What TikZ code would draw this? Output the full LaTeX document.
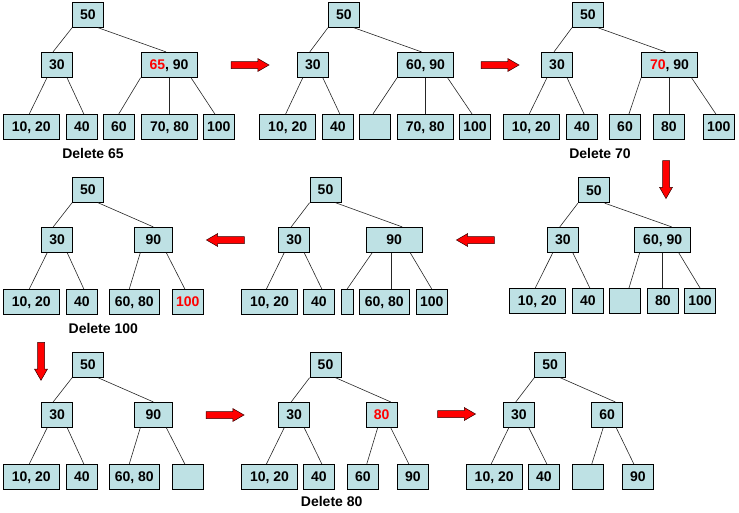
\documentclass[tikz,border=0pt]{standalone}
\usepackage{fontspec}
\setmainfont{Liberation Sans}
\usetikzlibrary{shapes.arrows}
\definecolor{nodeblue}{RGB}{190,225,228}
\definecolor{keyred}{RGB}{255,0,0}
\tikzset{
  key/.style={draw=black, line width=0.8pt, fill=nodeblue, minimum height=25pt, minimum width=31pt,
    inner sep=0pt, text height=10pt, text depth=0pt, font=\bfseries\fontsize{14}{16}\selectfont},
  wide/.style={key, minimum width=56pt},
  link/.style={line width=0.6pt, color=black!85},
  caption/.style={font=\bfseries\fontsize{14}{16}\selectfont},
  redarrow/.style={single arrow, draw=black!80!red, line width=0.5pt, fill=red, minimum height=38pt,
    minimum width=12.5pt, inner xsep=0pt, inner ysep=3.25pt, single arrow head extend=3pt,
    single arrow tip angle=60}
}
\begin{document}
\begin{tikzpicture}[x=1pt,y=-1pt]
	\useasboundingbox (0,0) rectangle (739,512);
	% tree 1
	\node[key] (a50) at (88,14.8) {50};
	\node[key] (a30) at (57,64.8) {30};
	\node[wide] (a6590) at (169,64.8) {\textcolor{keyred}{65}, 90};
	\node[wide] (a1020) at (31.3,126.8) {10, 20};
	\node[key] (a40) at (81.8,126.8) {40};
	\node[key] (a60) at (118.8,126.8) {60};
	\node[wide] (a7080) at (169.5,126.8) {70, 80};
	\node[key] (a100) at (218.8,126.8) {100};
	\node[caption] (lbla) at (93,153) {Delete 65};
	\draw[link] (a50.south west) -- ([xshift=-4pt]a30.north);
	\draw[link] ([xshift=10pt]a50.south) -- ([xshift=-3pt]a6590.north);
	\draw[link] ([xshift=-10pt]a30.south) -- ([xshift=-2pt]a1020.north);
	\draw[link] ([xshift=10pt]a30.south) -- ([xshift=2pt]a40.north);
	\draw[link] (a6590.south west) -- (a60.north);
	\draw[link] (a6590.south) -- (a6590.south |- a7080.north);
	\draw[link] ([xshift=22pt]a6590.south) -- ([xshift=-4pt]a100.north);
	% tree 2
	\node[key] (b50) at (343.8,14.8) {50};
	\node[key] (b30) at (312.8,64.8) {30};
	\node[wide] (b6090) at (425.5,64.8) {60, 90};
	\node[wide] (b1020) at (287.7,126.8) {10, 20};
	\node[key] (b40) at (337.8,126.8) {40};
	\node[key] (bnil) at (375,126.8) {};
	\node[wide] (b7080) at (425.3,126.8) {70, 80};
	\node[key] (b100) at (475,126.8) {100};
	\draw[link] (b50.south west) -- ([xshift=-3pt]b30.north);
	\draw[link] ([xshift=10pt]b50.south) -- ([xshift=-4pt]b6090.north);
	\draw[link] ([xshift=-10pt]b30.south) -- ([xshift=-2pt]b1020.north);
	\draw[link] ([xshift=10pt]b30.south) -- ([xshift=2pt]b40.north);
	\draw[link] (b6090.south west) -- ([xshift=-2pt]bnil.north);
	\draw[link] (b6090.south) -- (b6090.south |- b7080.north);
	\draw[link] ([xshift=22pt]b6090.south) -- ([xshift=-3pt]b100.north);
	% tree 3
	\node[key] (c50) at (587.8,14.8) {50};
	\node[key] (c30) at (557,64.8) {30};
	\node[wide] (c7090) at (669.5,64.8) {\textcolor{keyred}{70}, 90};
	\node[wide] (c1020) at (531.3,126.8) {10, 20};
	\node[key] (c40) at (582,126.8) {40};
	\node[key] (c60) at (625,126.8) {60};
	\node[key] (c80) at (668.8,126.8) {80};
	\node[key] (c100) at (718.8,126.8) {100};
	\node[caption] (lblc) at (600,153) {Delete 70};
	\draw[link] (c50.south west) -- ([xshift=-3pt]c30.north);
	\draw[link] ([xshift=10pt]c50.south) -- ([xshift=-4pt]c7090.north);
	\draw[link] ([xshift=-10pt]c30.south) -- ([xshift=-2pt]c1020.north);
	\draw[link] ([xshift=10pt]c30.south) -- ([xshift=2pt]c40.north);
	\draw[link] (c7090.south west) -- ([xshift=4pt]c60.north);
	\draw[link] (c7090.south) -- (c7090.south |- c80.north);
	\draw[link] ([xshift=22pt]c7090.south) -- ([xshift=-3pt]c100.north);
	% tree 4
	\node[key] (d50) at (593.8,190.3) {50};
	\node[key] (d30) at (562.8,239.8) {30};
	\node[wide] (d6090) at (662.7,239.8) {60, 90};
	\node[wide] (d1020) at (537.3,300.8) {10, 20};
	\node[key] (d40) at (587.8,300.8) {40};
	\node[key] (dnil) at (625,300.8) {};
	\node[key] (d80) at (662.8,300.8) {80};
	\node[key] (d100) at (700,300.8) {100};
	\draw[link] (d50.south west) -- ([xshift=-3pt]d30.north);
	\draw[link] ([xshift=11pt]d50.south) -- ([xshift=9pt]d6090.north);
	\draw[link] ([xshift=-10pt]d30.south) -- ([xshift=-2pt]d1020.north);
	\draw[link] ([xshift=10pt]d30.south) -- ([xshift=2pt]d40.north);
	\draw[link] ([xshift=-23pt]d6090.south) -- ([xshift=4pt]dnil.north);
	\draw[link] (d6090.south) -- (d6090.south |- d80.north);
	\draw[link] ([xshift=16pt]d6090.south) -- (d100.north);
	% tree 5
	\node[key] (e50) at (325.5,189.8) {50};
	\node[key] (e30) at (294.2,239.8) {30};
	\node[wide] (e90) at (394.2,239.8) {90};
	\node[wide] (e1020) at (269.5,301.8) {10, 20};
	\node[key] (e40) at (318.8,301.8) {40};
	\node[key, minimum width=12pt] (enil) at (347.2,301.8) {};
	\node[key, minimum width=50pt] (e6080) at (384.3,301.8) {60, 80};
	\node[key] (e100) at (431.7,301.8) {100};
	\draw[link] (e50.south west) -- ([xshift=-3pt]e30.north);
	\draw[link] ([xshift=10pt]e50.south) -- ([xshift=8pt]e90.north);
	\draw[link] ([xshift=-10pt]e30.south) -- ([xshift=-3pt]e1020.north);
	\draw[link] ([xshift=10pt]e30.south) -- ([xshift=3pt]e40.north);
	\draw[link] ([xshift=-22pt]e90.south) -- (enil.north);
	\draw[link] ([xshift=-3pt]e90.south) -- ([xshift=-3pt]e90.south |- e6080.north);
	\draw[link] ([xshift=16pt]e90.south) -- (e100.north);
	% tree 6
	\node[key] (f50) at (88,189.8) {50};
	\node[key] (f30) at (57.2,239.8) {30};
	\node[key, minimum width=38pt] (f90) at (153.3,239.8) {90};
	\node[wide] (f1020) at (31.3,301.8) {10, 20};
	\node[key] (f40) at (81.8,301.8) {40};
	\node[key, minimum width=50pt] (f6080) at (134.3,301.8) {60, 80};
	\node[key] (f100) at (187.8,301.8) {\textcolor{keyred}{100}};
	\node[caption] (lblf) at (103.3,328.3) {Delete 100};
	\draw[link] (f50.south west) -- ([xshift=-4pt]f30.north);
	\draw[link] ([xshift=10pt]f50.south) -- (f90.north);
	\draw[link] ([xshift=-10pt]f30.south) -- ([xshift=-2pt]f1020.north);
	\draw[link] ([xshift=10pt]f30.south) -- ([xshift=2pt]f40.north);
	\draw[link] ([xshift=-13pt]f90.south) -- ([xshift=-5pt]f6080.north);
	\draw[link] ([xshift=13pt]f90.south) -- ([xshift=-3pt]f100.north);
	% tree 7
	\node[key] (g50) at (88,364.8) {50};
	\node[key] (g30) at (57.2,414.8) {30};
	\node[key, minimum width=38pt] (g90) at (153.3,414.8) {90};
	\node[wide] (g1020) at (31.3,476.8) {10, 20};
	\node[key] (g40) at (81.8,476.8) {40};
	\node[key, minimum width=50pt] (g6080) at (134.3,476.8) {60, 80};
	\node[key] (gnil) at (187.8,476.8) {};
	\draw[link] (g50.south west) -- ([xshift=-4pt]g30.north);
	\draw[link] ([xshift=10pt]g50.south) -- (g90.north);
	\draw[link] ([xshift=-10pt]g30.south) -- ([xshift=-2pt]g1020.north);
	\draw[link] ([xshift=10pt]g30.south) -- ([xshift=2pt]g40.north);
	\draw[link] ([xshift=-13pt]g90.south) -- ([xshift=-5pt]g6080.north);
	\draw[link] ([xshift=13pt]g90.south) -- ([xshift=-3pt]gnil.north);
	% tree 8
	\node[key] (h50) at (325.5,364.8) {50};
	\node[key] (h30) at (294.2,414.8) {30};
	\node[key] (h80) at (381.7,414.8) {\textcolor{keyred}{80}};
	\node[wide] (h1020) at (269.5,476.8) {10, 20};
	\node[key] (h40) at (318.8,476.8) {40};
	\node[key] (h60) at (362.8,476.8) {60};
	\node[key] (h90) at (412.8,476.8) {90};
	\node[caption] (lblh) at (331.7,501.7) {Delete 80};
	\draw[link] (h50.south west) -- ([xshift=-3pt]h30.north);
	\draw[link] ([xshift=10pt]h50.south) -- ([xshift=9pt]h80.north);
	\draw[link] ([xshift=-10pt]h30.south) -- ([xshift=-3pt]h1020.north);
	\draw[link] ([xshift=10pt]h30.south) -- ([xshift=3pt]h40.north);
	\draw[link] ([xshift=-4pt]h80.south) -- ([xshift=4pt]h60.north);
	\draw[link] ([xshift=9pt]h80.south) -- ([xshift=-4pt]h90.north);
	% tree 9
	\node[key] (i50) at (550.2,364.8) {50};
	\node[key] (i30) at (518.8,414.8) {30};
	\node[key] (i60) at (607.2,414.8) {60};
	\node[wide] (i1020) at (494.2,476.8) {10, 20};
	\node[key] (i40) at (543.8,476.8) {40};
	\node[key] (inil) at (587.8,476.8) {};
	\node[key] (i90) at (637.8,476.8) {90};
	\draw[link] (i50.south west) -- ([xshift=-3pt]i30.north);
	\draw[link] ([xshift=10pt]i50.south) -- ([xshift=8pt]i60.north);
	\draw[link] ([xshift=-10pt]i30.south) -- ([xshift=-3pt]i1020.north);
	\draw[link] ([xshift=10pt]i30.south) -- ([xshift=3pt]i40.north);
	\draw[link] ([xshift=-4pt]i60.south) -- ([xshift=4pt]inil.north);
	\draw[link] ([xshift=9pt]i60.south) -- ([xshift=-4pt]i90.north);
	% arrows between steps
	\node[redarrow] (arr1) at (247,65) {};
	\node[redarrow] (arr2) at (497,65) {};
	\node[redarrow, rotate=-90] (arr3) at (666,176.5) {};
	\node[redarrow, rotate=180] (arr4) at (478.5,240) {};
	\node[redarrow, rotate=180] (arr5) at (228.5,240) {};
	\node[redarrow, rotate=-90] (arr6) at (41,358.3) {};
	\node[redarrow] (arr7) at (222,415) {};
	\node[redarrow] (arr8) at (453.5,414) {};
\end{tikzpicture}
\end{document}
